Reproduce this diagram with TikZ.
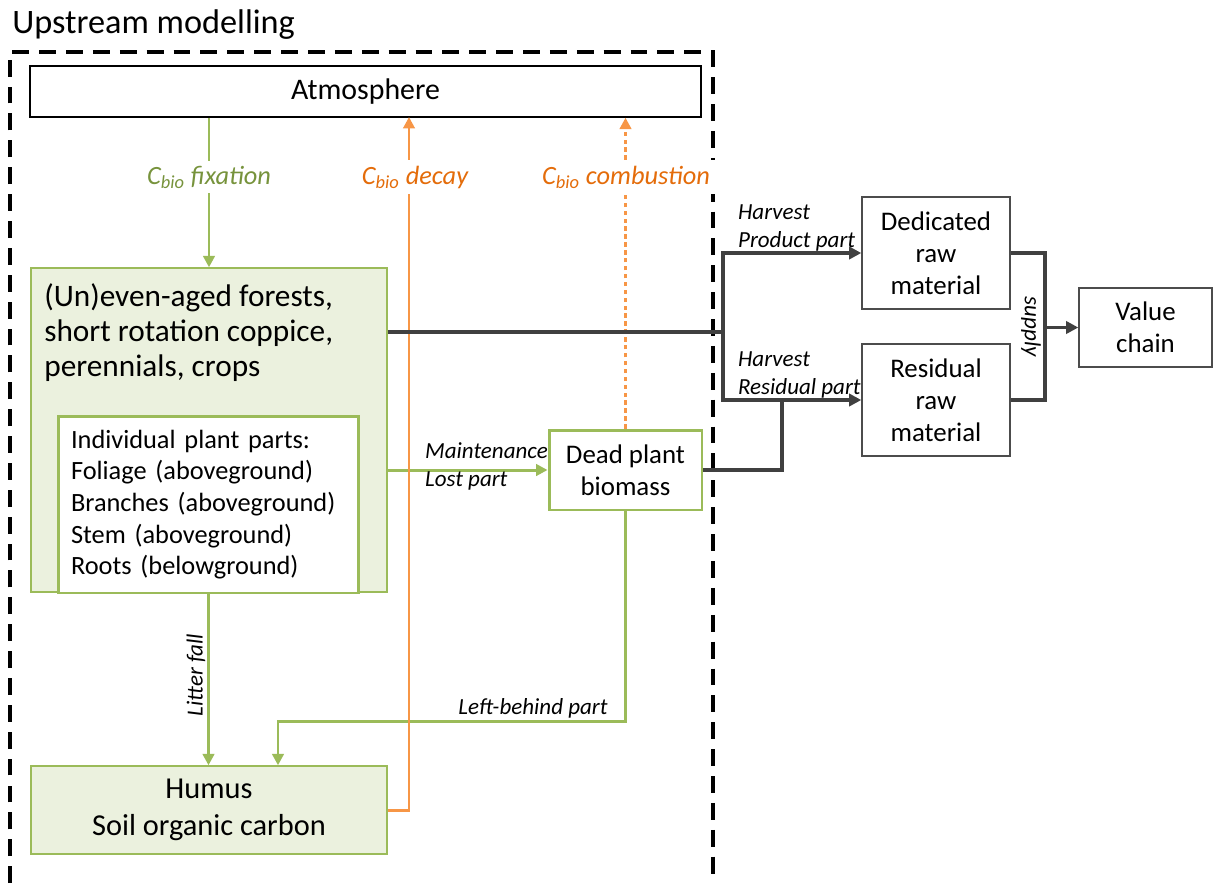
\documentclass[tikz,border=0pt]{standalone}
\usepackage{fontspec}
\setmainfont{Carlito}
\usetikzlibrary{arrows.meta}

\definecolor{leafgreen}{HTML}{9BBB59}
\definecolor{leaftext}{HTML}{77933C}
\definecolor{palegreen}{HTML}{EBF1DE}
\definecolor{flame}{HTML}{F79646}
\definecolor{flametext}{HTML}{E46C0A}
\definecolor{darkline}{HTML}{404040}

\newcommand{\titlefont}{\fontsize{19.5}{22}\selectfont}
\newcommand{\boxfont}{\fontsize{15.3}{18.2}\selectfont}
\newcommand{\atmosfont}{\fontsize{17}{19}\selectfont}
\newcommand{\forestfont}{\fontsize{17.8}{19.9}\selectfont}
\newcommand{\humusfont}{\fontsize{17.3}{21}\selectfont}
\newcommand{\partsfont}{\fontsize{15}{18}\selectfont}
\newcommand{\flowfont}{\fontsize{15}{17}\selectfont\itshape}
\newcommand{\notefont}{\fontsize{13.1}{15.9}\selectfont\itshape}

\tikzset{
  box/.style={draw=black!70, line width=0.8pt, fill=white, align=center, font=\boxfont, inner sep=2pt},
  greenbox/.style={draw=leafgreen, line width=0.8pt, fill=palegreen, align=center},
  partbox/.style={draw=leafgreen, line width=1.7pt, fill=white, font=\partsfont},
  frame/.style={line width=2.2pt, dash pattern=on 9.6pt off 5.7pt},
  gflow/.style={leafgreen, line width=1.7pt, -{Triangle[width=6.5pt,length=6.5pt]}},
  oflow/.style={flame, line width=1.7pt, -{Triangle[width=6.5pt,length=6.5pt]}},
  dline/.style={darkline, line width=2pt},
  dflow/.style={dline, -{Triangle[width=7pt,length=7pt]}},
  flowlbl/.style={fill=white, font=\flowfont, inner sep=3pt},
  notelbl/.style={font=\notefont, inner sep=1pt}
}

\begin{document}
\begin{tikzpicture}[x=0.02cm, y=-0.02cm]
\useasboundingbox (0,0) rectangle (1213,883);
%upstream frame
\node[anchor=west, inner sep=0, font=\titlefont] (title) at (12,25) {Upstream modelling};
\draw[frame] (10,883) -- (10,52) -- (713,52) -- (713,883);

%boxes
\node[box, draw=black, font=\atmosfont, minimum width=13.42cm, minimum height=1.02cm] (atmos) at (365.5,91.5) {Atmosphere};
\node[greenbox, minimum width=7.12cm, minimum height=6.48cm] (forest) at (209,430) {};
\node[anchor=north west, align=left, inner sep=0, font=\forestfont] (foresttxt) at (44,283)
  {(Un)even-aged forests,\\ short rotation coppice,\\ perennials, crops};
\node[partbox, align=left, text width=5.5cm, inner xsep=0.25cm, minimum height=3.54cm] (parts) at (208.5,504.5)
  {Individual plant parts:\\ Foliage (aboveground)\\ Branches (aboveground)\\ Stem (aboveground)\\ Roots (belowground)};
\node[partbox, align=center, font=\boxfont, minimum width=3.06cm, minimum height=1.6cm] (dead) at (625.5,470) {Dead plant\\ biomass};
\node[greenbox, font=\humusfont, minimum width=7.12cm, minimum height=1.76cm] (humus) at (209,810) {Humus\\ Soil organic carbon};
\node[box, minimum width=2.96cm, minimum height=2.24cm] (dedic) at (936,253) {Dedicated\\ raw\\ material};
\node[box, minimum width=2.96cm, minimum height=2.24cm] (resid) at (936,400) {Residual\\ raw\\ material};
\node[box, minimum width=2.66cm, minimum height=1.58cm] (value) at (1145.5,327.5) {Value\\ chain};

%carbon flows
\coordinate (dk) at (409,117);
\coordinate (lb) at (278,721);
\draw[gflow] (atmos.south -| forest.north) -- (forest.north);
\draw[gflow] (forest.east |- dead.west) -- (dead.west);
\draw[gflow] (parts.south) -- (parts.south |- humus.north);
\draw[gflow] (dead.south) |- (lb) -- (lb |- humus.north);
\draw[oflow] (humus.east) -| (dk);
\draw[oflow, dash pattern=on 2.5pt off 2pt] (dead.north) -- (dead.north |- atmos.south);

%harvest and supply
\coordinate (jn) at (723,332);
\coordinate (rj) at (782,400);
\coordinate (sp) at (1045,327.5);
\draw[dline] (forest.east |- jn) -- (jn);
\draw[dflow] (jn) |- (dedic.west);
\draw[dflow] (jn) |- (resid.west);
\draw[dline] (dead.east) -| (rj);
\draw[dline] (dedic.east) -| (sp) |- (resid.east);
\draw[dflow] (sp) -- (value.west);

%labels
\node[flowlbl, text=leaftext] (fixlbl) at (209,177) {C\textsubscript{bio} fixation};
\node[flowlbl, text=flametext] (decaylbl) at (415,177) {C\textsubscript{bio} decay};
\node[flowlbl, text=flametext] (comblbl) at (626,177) {C\textsubscript{bio} combustion};
\node[notelbl, anchor=west, align=left] (mntlbl) at (423,466) {Maintenance\\ Lost part};
\node[notelbl, rotate=90] (litlbl) at (196,675) {Litter fall};
\node[notelbl] (lblbl) at (533,708) {Left-behind part};
\node[notelbl, anchor=west, align=left] (prodlbl) at (736,228) {Harvest\\ Product part};
\node[notelbl, anchor=west, align=left] (reslbl) at (736,375) {Harvest\\ Residual part};
\node[notelbl, rotate=-90] (suplbl) at (1031,327) {supply};
\end{tikzpicture}
\end{document}
